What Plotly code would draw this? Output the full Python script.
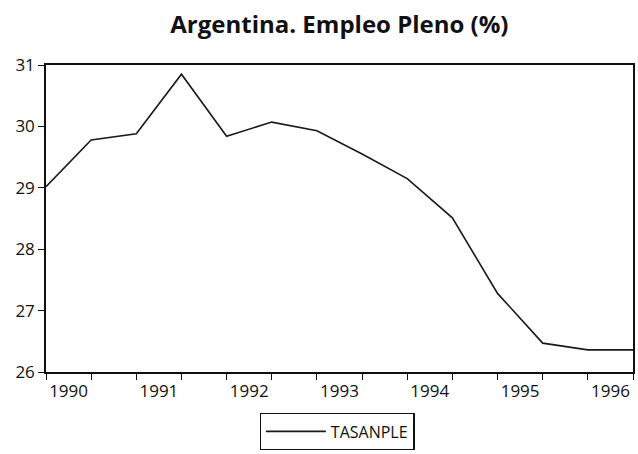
import plotly.graph_objects as go

# semi-annual observations (May / October), 1990-1996
obs_index = list(range(14))
tasanple = [29.02, 29.78, 29.88, 30.85, 29.84, 30.07, 29.93, 29.55, 29.15, 28.51, 27.28, 26.47, 26.36, 26.36]
year_labels = ["1990", "1991", "1992", "1993", "1994", "1995", "1996"]
year_label_pos = [0.5, 2.5, 4.5, 6.5, 8.5, 10.5, 12.5]
y_ticks = [26, 27, 28, 29, 30, 31]

FONT = "Open Sans, Lato, sans-serif"

fig = go.Figure()
fig.add_trace(go.Scatter(
    x=obs_index, y=tasanple, mode="lines", name="TASANPLE",
    line=dict(color="#1a1a1a", width=1.6),
))

fig.update_layout(
    width=638, height=454,
    margin=dict(l=46, r=3, t=65, b=82),
    paper_bgcolor="white", plot_bgcolor="white",
    title=dict(text="<b>Argentina. Empleo Pleno (%)</b>", x=0.532, xanchor="center",
               y=0.945, yanchor="middle",
               font=dict(family=FONT, size=24, color="#111")),
    font=dict(family=FONT, size=17, color="#111"),
    showlegend=True,
    legend=dict(orientation="h", x=0.496, xanchor="center", y=-0.255, yanchor="bottom",
                itemwidth=60,
                bordercolor="#111", borderwidth=1.2, font=dict(size=16, color="#111"),
                bgcolor="white"),
    xaxis=dict(range=[0, 13], tickmode="array", tickvals=year_label_pos, ticktext=year_labels,
               ticks="", showgrid=False, zeroline=False, ticklabelstandoff=3,
               showline=True, linecolor="#111", linewidth=1.5, mirror=True,
               minor=dict(tickmode="array", tickvals=obs_index, ticks="outside",
                          ticklen=6, tickwidth=1.3, tickcolor="#111", showgrid=False),
               tickfont=dict(size=17)),
    yaxis=dict(range=[26, 31], tickmode="array", tickvals=y_ticks,
               ticks="outside", ticklen=6, tickwidth=1.3, tickcolor="#111",
               showgrid=False, zeroline=False,
               showline=True, linecolor="#111", linewidth=1.5, mirror=True,
               tickfont=dict(size=17)),
)

fig.write_html("out.html", config={"displayModeBar": False},
               post_script="document.body.style.margin='0';")
